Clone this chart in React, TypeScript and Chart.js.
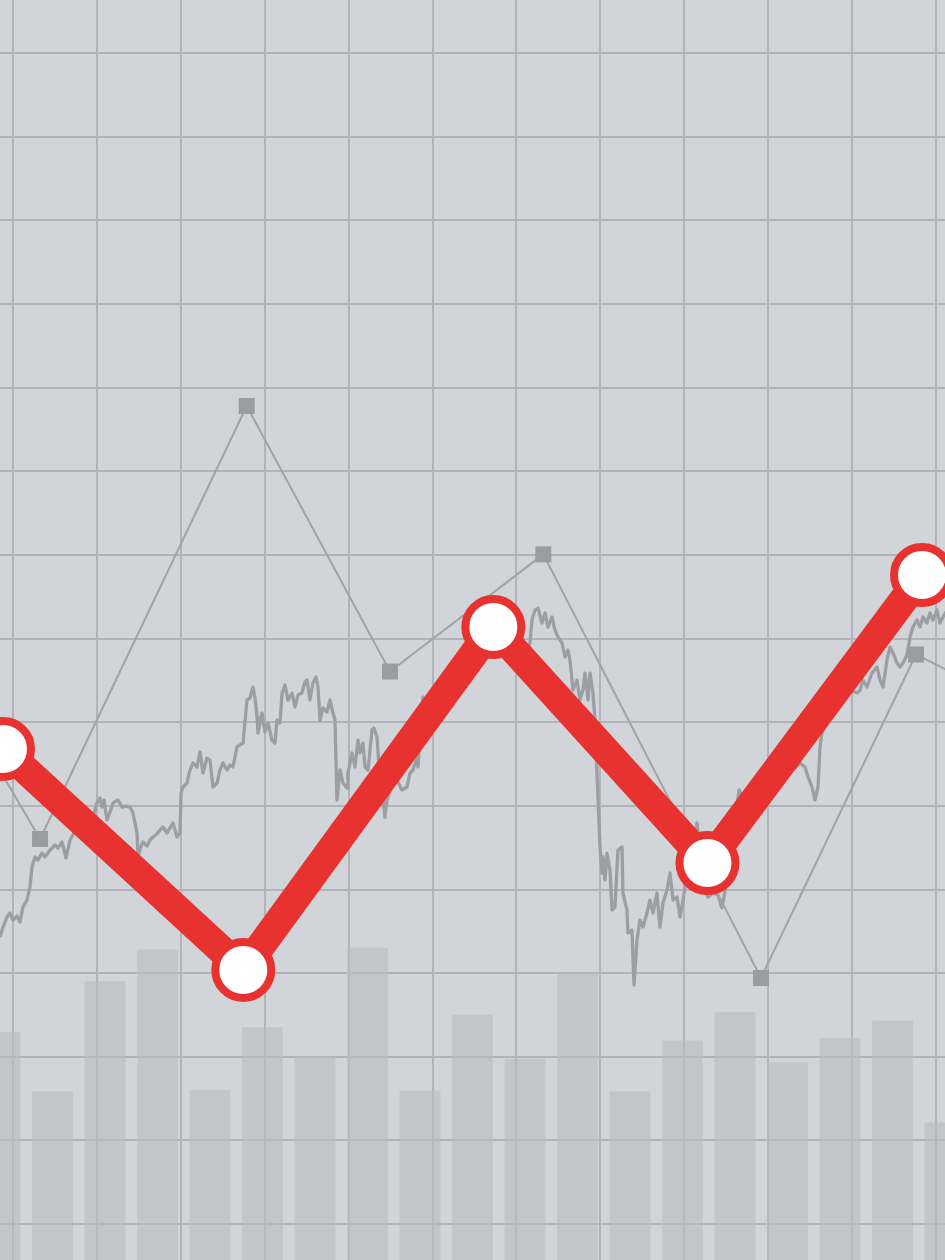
import React, { useEffect, useRef } from "react";
import { Chart, registerables } from "chart.js";

Chart.register(...registerables);

const WIDTH = 945;
const HEIGHT = 1260;

// Axis ranges (chart units) and grid step
const X_MIN = -1.574;
const X_MAX = 111.09;
const Y_MIN = 5.71;
const Y_MAX = 156.34;
const GRID_STEP = 10;

// Volume bars
const barLabels = ["1", "2", "3", "4", "5", "6", "7", "8", "9", "10", "11", "12", "13", "14", "15", "16", "17", "18", "19"];
const barValues = [32.9, 25.8, 39.0, 42.8, 26.0, 33.5, 30.0, 43.0, 25.9, 35.0, 29.7, 40.0, 25.8, 31.9, 35.3, 29.3, 32.2, 34.3, 22.1];

// Red trend line
const trendX = [-1.22, 27.43, 57.24, 82.77, 108.35];
const trendY = [66.8, 40.38, 81.38, 53.17, 87.6];

// Thin gray line with square markers
const markerX = [-5.15, 3.2, 27.84, 44.92, 63.2, 89.15, 107.63, 116.45];
const markerY = [70.38, 56.04, 107.8, 76.06, 90.07, 39.42, 78.1, 73.61];

// Noisy price line
const priceX = [
  -1.57, -1.22, -0.74, -0.38, -0.02, 0.45, 0.81, 1.17, 1.64, 2.0,
  2.24, 2.6, 2.96, 3.43, 3.79, 4.39, 4.98, 5.34, 5.82, 6.3,
  6.77, 7.25, 7.73, 8.32, 8.92, 9.51, 9.99, 10.35, 10.59, 10.83,
  11.18, 11.54, 11.9, 12.49, 12.97, 13.45, 13.92, 14.28, 14.76, 14.88,
  15.24, 15.47, 15.95, 16.31, 16.67, 17.14, 17.5, 17.86, 18.34, 18.69,
  19.05, 19.53, 19.89, 20.01, 20.24, 20.72, 21.08, 21.44, 21.91, 22.27,
  22.63, 23.1, 23.46, 23.82, 24.3, 24.65, 25.01, 25.49, 25.85, 26.2,
  26.68, 27.04, 27.4, 27.87, 28.23, 28.59, 28.83, 29.07, 29.18, 29.66,
  30.02, 30.38, 30.85, 31.21, 31.45, 31.81, 32.05, 32.4, 32.76, 33.24,
  33.6, 33.95, 34.43, 34.79, 35.03, 35.38, 35.74, 36.1, 36.34, 36.58,
  36.93, 37.41, 37.77, 38.13, 38.36, 38.6, 38.96, 39.32, 39.8, 39.91,
  40.39, 40.75, 41.11, 41.34, 41.7, 41.94, 42.3, 42.78, 43.01, 43.37,
  43.61, 43.97, 44.32, 44.56, 45.16, 45.76, 46.35, 46.95, 47.31, 47.66,
  48.14, 48.26, 48.74, 48.86, 49.45, 50.05, 50.88, 51.72, 52.43, 53.27,
  54.1, 54.82, 55.65, 56.49, 57.2, 58.04, 58.87, 59.59, 60.42, 60.9,
  61.26, 61.61, 61.85, 62.21, 62.57, 63.04, 63.4, 63.76, 64.23, 64.59,
  64.95, 65.43, 65.78, 66.14, 66.38, 66.74, 67.21, 67.57, 67.93, 68.17,
  68.53, 68.77, 69.12, 69.36, 69.6, 69.96, 70.2, 70.31, 70.55, 70.79,
  71.15, 71.39, 71.74, 72.1, 72.58, 72.7, 73.17, 73.29, 73.77, 74.01,
  74.37, 74.73, 75.08, 75.56, 75.92, 76.28, 76.75, 77.11, 77.47, 77.95,
  78.3, 78.66, 79.14, 79.5, 79.86, 80.45, 81.05, 81.52, 81.88, 82.36,
  82.83, 83.43, 84.03, 84.5, 85.1, 85.81, 86.53, 86.89, 87.84, 88.68,
  89.63, 90.46, 91.42, 92.37, 93.21, 93.8, 94.4, 94.76, 95.23, 95.59,
  95.95, 96.19, 96.42, 97.14, 97.97, 98.81, 99.76, 100.6, 100.96, 101.31,
  101.79, 102.38, 102.98, 103.34, 103.7, 104.17, 104.53, 104.89, 105.37, 105.72,
  106.08, 106.56, 106.92, 107.27, 107.75, 108.11, 108.47, 108.94, 109.3, 109.66,
  110.14, 110.49, 110.85, 111.21,
];
const priceY = [
  44.32, 45.52, 46.71, 47.19, 46.35, 46.83, 46.11, 47.91, 48.74, 50.3,
  52.69, 53.89, 53.53, 54.36, 53.89, 54.72, 55.32, 54.96, 55.68, 53.77,
  55.92, 56.76, 57.35, 58.07, 57.71, 58.67, 60.34, 60.94, 59.86, 60.7,
  58.31, 59.27, 60.34, 60.7, 59.86, 59.98, 59.86, 59.15, 56.76, 53.89,
  55.2, 55.68, 55.2, 55.92, 56.28, 56.64, 57.11, 57.47, 56.76, 57.35,
  57.95, 56.28, 56.76, 61.54, 62.25, 62.73, 64.29, 65.12, 64.65, 66.44,
  63.93, 65.72, 65.48, 62.25, 62.73, 64.29, 65.12, 64.29, 64.88, 64.65,
  67.04, 67.28, 67.51, 72.65, 72.89, 74.21, 72.89, 70.62, 68.71, 71.1,
  68.83, 69.91, 67.87, 67.51, 70.26, 69.91, 73.49, 74.45, 72.65, 73.49,
  71.82, 73.25, 73.49, 74.81, 75.05, 72.65, 74.69, 75.4, 74.21, 70.26,
  71.7, 71.22, 72.65, 71.1, 70.26, 60.7, 64.29, 62.73, 62.13, 63.93,
  66.32, 64.65, 67.87, 66.32, 67.51, 64.65, 64.29, 69.07, 69.31, 68.23,
  64.65, 61.9, 58.67, 60.7, 62.49, 63.09, 61.9, 62.25, 63.93, 64.29,
  65.84, 64.65, 71.82, 73.01, 72.06, 73.85, 73.25, 75.05, 74.45, 76.48,
  76.0, 78.03, 77.44, 79.23, 78.63, 79.83, 78.87, 80.43, 79.23, 77.44,
  78.28, 79.47, 82.22, 83.41, 83.65, 81.86, 83.06, 81.38, 82.58, 81.02,
  80.19, 79.47, 77.8, 78.63, 77.44, 73.85, 75.05, 72.65, 73.85, 75.88,
  72.65, 75.88, 73.49, 70.26, 63.93, 55.08, 51.97, 53.89, 51.14, 54.36,
  52.33, 47.55, 47.91, 54.72, 55.08, 49.58, 47.55, 44.8, 45.16, 38.58,
  43.96, 46.35, 45.52, 47.19, 48.74, 47.19, 49.58, 45.52, 48.39, 49.94,
  51.97, 48.74, 49.1, 46.71, 48.74, 52.33, 54.72, 57.95, 54.72, 49.94,
  49.1, 49.58, 49.34, 47.79, 51.14, 55.92, 61.9, 61.3, 60.7, 62.49,
  63.69, 61.9, 64.29, 65.48, 64.53, 65.12, 64.65, 63.45, 62.25, 60.7,
  62.25, 67.04, 68.71, 70.26, 71.22, 72.65, 73.85, 73.49, 73.85, 75.05,
  74.21, 75.88, 76.6, 75.05, 74.21, 77.44, 78.99, 78.28, 77.08, 76.6,
  77.08, 78.03, 80.19, 81.38, 82.22, 81.38, 82.58, 81.86, 83.06, 82.22,
  83.41, 81.86, 82.58, 83.18,
];

const COLORS = {
  background: "#d1d4d8",
  grid: "#b1b3b8",
  bar: "rgba(186,187,191,0.62)",
  price: "#9b9ea3",
  markerLine: "#a1a3a7",
  marker: "#9a9ca1",
  red: "#e8322f",
  white: "#ffffff",
};

function zip(xs: number[], ys: number[]) {
  const n = Math.min(xs.length, ys.length);
  const out: { x: number; y: number }[] = [];
  for (let i = 0; i < n; i++) out.push({ x: xs[i], y: ys[i] });
  return out;
}

function gridTicks(scale: any) {
  const ticks: { value: number }[] = [];
  const start = Math.ceil(scale.min / GRID_STEP) * GRID_STEP;
  for (let v = start; v <= scale.max; v += GRID_STEP) ticks.push({ value: v });
  scale.ticks = ticks;
}

export default function App() {
  const canvasRef = useRef<HTMLCanvasElement | null>(null);

  useEffect(() => {
    if (!canvasRef.current) return;
    const chart = new Chart(canvasRef.current, {
      type: "line",
      data: {
        labels: barLabels,
        datasets: [
          {
            type: "line",
            data: zip(trendX, trendY),
            xAxisID: "x",
            yAxisID: "y",
            borderColor: COLORS.red,
            borderWidth: 29,
            pointRadius: 28,
            pointBorderWidth: 8,
            pointBackgroundColor: COLORS.white,
            pointBorderColor: COLORS.red,
            tension: 0,
            order: 0,
          },
          {
            type: "line",
            data: zip(markerX, markerY),
            xAxisID: "x",
            yAxisID: "y",
            borderColor: COLORS.markerLine,
            borderWidth: 2,
            pointStyle: "rect",
            pointRadius: 11.3,
            pointBorderWidth: 0,
            pointBackgroundColor: COLORS.marker,
            tension: 0,
            order: 1,
          },
          {
            type: "line",
            data: zip(priceX, priceY),
            xAxisID: "x",
            yAxisID: "y",
            borderColor: COLORS.price,
            borderWidth: 3.3,
            borderJoinStyle: "round",
            pointRadius: 0,
            tension: 0,
            order: 2,
          },
          {
            type: "bar",
            data: barValues,
            xAxisID: "xb",
            yAxisID: "y",
            backgroundColor: COLORS.bar,
            borderWidth: 0,
            grouped: false,
            barThickness: 40,
            maxBarThickness: 40,
            order: 3,
          } as any,
        ],
      },
      options: {
        responsive: false,
        animation: false,
        events: [],
        layout: { padding: 0, autoPadding: false },
        plugins: {
          legend: { display: false },
          tooltip: { enabled: false },
          title: { display: false },
        },
        scales: {
          x: {
            type: "linear",
            position: "bottom",
            min: X_MIN,
            max: X_MAX,
            afterBuildTicks: gridTicks,
            grid: { color: COLORS.grid, lineWidth: 2, drawTicks: false },
            border: { display: false },
            ticks: { display: false },
          },
          xb: {
            type: "category",
            labels: barLabels,
            display: false,
            offset: false,
            grid: { offset: false },
          },
          y: {
            type: "linear",
            min: Y_MIN,
            max: Y_MAX,
            beginAtZero: false,
            afterBuildTicks: gridTicks,
            grid: { color: COLORS.grid, lineWidth: 2, drawTicks: false },
            border: { display: false },
            ticks: { display: false },
          },
        },
      } as any,
    });
    return () => chart.destroy();
  }, []);

  return (
    <div
      style={{
        position: "absolute",
        left: 0,
        top: 0,
        width: WIDTH,
        height: HEIGHT,
        background: COLORS.background,
        overflow: "hidden",
      }}
    >
      <canvas
        ref={canvasRef}
        width={WIDTH}
        height={HEIGHT}
        style={{ display: "block", width: WIDTH, height: HEIGHT }}
      />
    </div>
  );
}
